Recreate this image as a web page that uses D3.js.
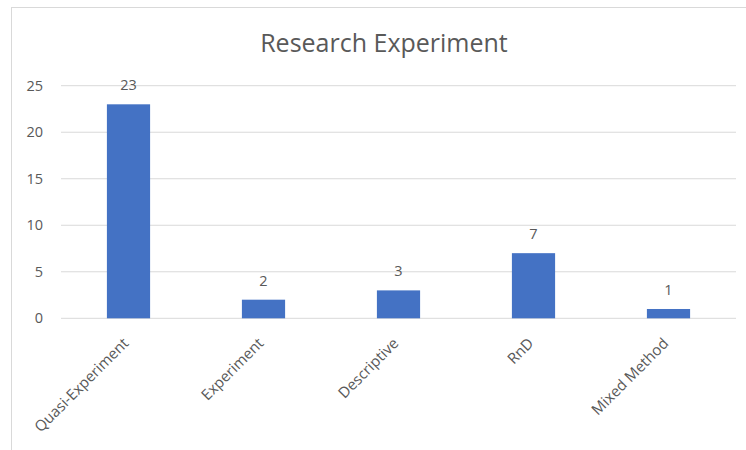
<!DOCTYPE html>
<html>
<head>
<meta charset="utf-8">
<script src="https://cdn.jsdelivr.net/npm/d3@7"></script>
<style>
  body { margin: 0; background: #fff; }
  text { font-family: "Open Sans", "Noto Sans", sans-serif; fill: #595959; }
</style>
</head>
<body>
<svg id="bar"></svg>
<script>
var categories = ["Quasi-Experiment", "Experiment", "Descriptive", "RnD", "Mixed Method"];
var values = [23, 2, 3, 7, 1];
var yTicks = [0, 5, 10, 15, 20, 25];

var outerWidth = 746;
var outerHeight = 450;
var margin = { top: 85.7, left: 61, right: 10, bottom: 131.7 };
var width = outerWidth - margin.left - margin.right;
var height = outerHeight - margin.top - margin.bottom;

var svg = d3.select("#bar").attr("width", outerWidth).attr("height", outerHeight);

// chart frame
svg.append("rect")
  .attr("x", 11.5).attr("y", 7.5)
  .attr("width", 760).attr("height", 460)
  .attr("fill", "none")
  .attr("stroke", "#d9d9d9");

svg.append("text")
  .attr("x", 384).attr("y", 52)
  .style("text-anchor", "middle")
  .style("font-size", "25px")
  .text("Research Experiment");

var cg = svg.append("g")
  .attr("transform", "translate(" + margin.left + "," + margin.top + ")");

var x = d3.scaleBand().domain(categories).range([0, width])
  .paddingInner(0.68).paddingOuter(0.34);
var y = d3.scaleLinear().domain([0, 25]).range([height, 0]);

// gridlines
cg.selectAll(".grid").data(yTicks).enter().append("line")
  .attr("x1", 0).attr("x2", width)
  .attr("y1", (d) => y(d)).attr("y2", (d) => y(d))
  .attr("stroke", "#d9d9d9").attr("stroke-width", 1);

var yAxis = d3.axisLeft(y).tickValues(yTicks).tickSize(0).tickPadding(18);
var yg = cg.append("g").call(yAxis);
yg.select(".domain").remove();
yg.selectAll("text").style("font-size", "14.5px").attr("fill", "#595959");

var xAxis = d3.axisBottom(x).tickSize(0).tickPadding(0);
var xg = cg.append("g").attr("transform", `translate(0,${height})`).call(xAxis);
xg.select(".domain").remove();
xg.selectAll("text")
  .style("font-size", "15px")
  .attr("fill", "#595959")
  .attr("text-anchor", "end")
  .attr("dy", 0)
  .attr("y", 0)
  .attr("transform", "translate(1,26) rotate(-45)");

cg.selectAll("rect.bar").data(values).enter().append("rect")
  .attr("class", "bar")
  .attr("x", (d, i) => x(categories[i]))
  .attr("width", x.bandwidth())
  .attr("y", (d) => y(d))
  .attr("height", (d) => height - y(d))
  .attr("fill", "#4472c4");

cg.selectAll(".lbl").data(values).enter().append("text")
  .attr("x", (d, i) => x(categories[i]) + x.bandwidth() / 2)
  .attr("y", (d) => y(d) - 14)
  .style("text-anchor", "middle")
  .style("font-size", "14.5px")
  .text((d) => d);
</script>
</body>
</html>
